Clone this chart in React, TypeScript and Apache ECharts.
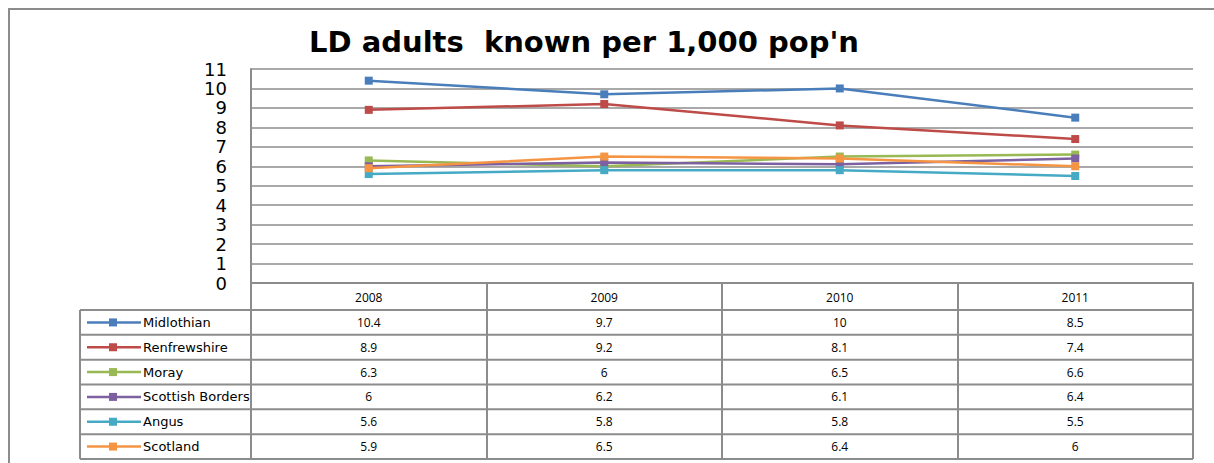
import React, { useEffect, useRef } from "react";
import * as echarts from "echarts";

const categories = ["2008", "2009", "2010", "2011"];
const seriesNames = ["Midlothian", "Renfrewshire", "Moray", "Scottish Borders", "Angus", "Scotland"];
const midlothian = [10.4, 9.7, 10, 8.5];
const renfrewshire = [8.9, 9.2, 8.1, 7.4];
const moray = [6.3, 6, 6.5, 6.6];
const scottishBorders = [6, 6.2, 6.1, 6.4];
const angus = [5.6, 5.8, 5.8, 5.5];
const scotland = [5.9, 6.5, 6.4, 6];
const seriesValues = [midlothian, renfrewshire, moray, scottishBorders, angus, scotland];
const colors = ["#4A7EBB", "#BE4B48", "#98B954", "#7D60A0", "#46AAC5", "#F59543"];
const yTicks = { min: 0, max: 11, interval: 1 };

const GRID_LEFT = 251;
const GRID_RIGHT_EDGE = 1193;
const GRID_TOP = 69;
const GRID_BOTTOM_EDGE = 283;
const HEADER_BOTTOM = 310;
const TABLE_BOTTOM = 459;
const TABLE_LEFT = 80;
const LINE_COLOR = "#8C8C8C";

export default function App() {
  const ref = useRef<HTMLDivElement>(null);
  useEffect(() => {
    if (!ref.current) return;
    const chart = echarts.init(ref.current, null, { renderer: "svg" });
    const option: any = {
      animation: false,
      title: {
        text: "LD adults  known per 1,000 pop'n",
        left: 579,
        top: 22,
        textAlign: "center",
        textStyle: { fontFamily: "DejaVu Sans", fontWeight: "bold", fontSize: 29, color: "#000" },
      },
      grid: { left: GRID_LEFT, right: 1214 - GRID_RIGHT_EDGE, top: GRID_TOP, bottom: 463 - GRID_BOTTOM_EDGE },
      xAxis: {
        type: "category",
        data: categories,
        boundaryGap: true,
        axisLine: { show: true, lineStyle: { color: LINE_COLOR, width: 2 } },
        axisTick: { show: true, interval: 0, length: TABLE_BOTTOM - GRID_BOTTOM_EDGE, lineStyle: { color: LINE_COLOR, width: 2 } },
        axisLabel: { fontSize: 12, color: "#000", margin: 8, fontFamily: "Open Sans" },
        splitLine: { show: false },
      },
      yAxis: {
        type: "value",
        min: yTicks.min,
        max: yTicks.max,
        interval: yTicks.interval,
        axisLine: { show: true, lineStyle: { color: LINE_COLOR, width: 2 } },
        axisTick: { show: false },
        axisLabel: { fontSize: 18, color: "#000", margin: 24, fontFamily: "DejaVu Sans" },
        splitLine: { show: true, lineStyle: { color: LINE_COLOR, width: 1.5 } },
      },
      series: seriesNames.map((name, i) => ({
        name,
        type: "line",
        data: seriesValues[i],
        symbol: "rect",
        symbolSize: 8,
        lineStyle: { color: colors[i], width: 2.5 },
        itemStyle: { color: colors[i] },
        z: 2 + i,
      })),
    };
    chart.setOption(option);

    const rowH = (TABLE_BOTTOM - HEADER_BOTTOM) / seriesNames.length;
    const graphics: any[] = [];
    graphics.push({
      type: "polyline",
      shape: { points: [[9, 470], [9, 9], [1220, 9]] },
      style: { fill: "none", stroke: "#8C8C8C", lineWidth: 2 },
      silent: true,
    });
    for (let r = 0; r <= seriesNames.length; r++) {
      const y = HEADER_BOTTOM + r * rowH;
      graphics.push({
        type: "line",
        shape: { x1: TABLE_LEFT, y1: y, x2: GRID_RIGHT_EDGE, y2: y },
        style: { stroke: LINE_COLOR, lineWidth: 2 },
      });
    }
    graphics.push({
      type: "line",
      shape: { x1: TABLE_LEFT, y1: HEADER_BOTTOM, x2: TABLE_LEFT, y2: TABLE_BOTTOM },
      style: { stroke: LINE_COLOR, lineWidth: 2 },
    });
    seriesNames.forEach((name, r) => {
      const cy = HEADER_BOTTOM + r * rowH + rowH / 2;
      graphics.push({
        type: "line",
        shape: { x1: 87, y1: cy, x2: 141, y2: cy },
        style: { stroke: colors[r], lineWidth: 2.5 },
      });
      graphics.push({
        type: "rect",
        shape: { x: 109, y: cy - 4, width: 8, height: 8 },
        style: { fill: colors[r] },
      });
      graphics.push({
        type: "text",
        x: 143,
        y: cy,
        style: { text: name, fontSize: 13, fontFamily: "DejaVu Sans", fill: "#000", verticalAlign: "middle", align: "left" },
      });
      seriesValues[r].forEach((v, c) => {
        const px = chart.convertToPixel({ xAxisIndex: 0 }, c) as number;
        graphics.push({
          type: "text",
          x: px,
          y: cy,
          style: { text: String(v), fontSize: 12, fontFamily: "Open Sans", fill: "#000", verticalAlign: "middle", align: "center" },
        });
      });
    });
    chart.setOption({ graphic: graphics });
    return () => chart.dispose();
  }, []);
  return <div ref={ref} style={{ position: "fixed", left: 0, top: 0, width: 1214, height: 463, background: "#fff" }} />;
}
